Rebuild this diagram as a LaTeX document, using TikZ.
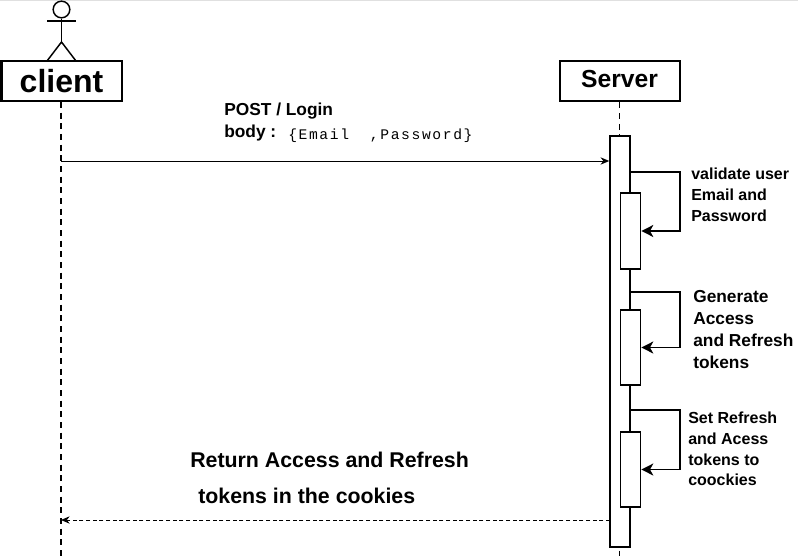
\documentclass[tikz,border=0pt]{standalone}
\usepackage{fontspec}
\setmainfont{Liberation Sans}
\newfontfamily\bodyfont[LetterSpace=11]{Liberation Mono}
\usetikzlibrary{arrows.meta}
\tikzset{
  party/.style={draw,line width=1.5pt,minimum width=90pt,minimum height=30pt,inner sep=0pt,font=\bfseries},
  lifeline/.style={line width=0.9pt,dash pattern=on 4.5pt off 3.5pt},
  active/.style={draw,fill=white,line width=1.2pt,minimum width=15pt,inner sep=0pt},
  selfmsg/.style={line width=1.1pt,-{Stealth[length=9pt,width=9pt,inset=2.5pt]}},
  note/.style={anchor=west,align=left,inner sep=0pt,font=\bfseries\fontsize{12}{15.6}\selectfont}
}
\begin{document}
\begin{tikzpicture}[x=0.75pt,y=-0.75pt]
  \useasboundingbox (0,0) rectangle (798,556);
  \draw[black!12,line width=1.5pt] (0,0.5)--(798,0.5);
  \node[party,font=\bfseries\fontsize{24}{24}\selectfont] (client) at (61.5,81) {client};
  \node[party,font=\bfseries\fontsize{18.5}{19}\selectfont] (server) at (619.5,81.5) {\raisebox{4pt}{Server}};
  \node[draw,circle,line width=1.1pt,minimum size=12.5pt,inner sep=0pt] (head) at (61.5,9.5) {};
  \coordinate (hip) at (61.5,42);
  \coordinate (armL) at (47,21);
  \coordinate (armR) at (76,21);
  \coordinate (footL) at (47,61);
  \coordinate (footR) at (76,61);
  \draw[line width=1.1pt] (head.south)--(hip);
  \draw[line width=1.1pt] (armL)--(armR);
  \draw[line width=1.1pt] (footL)--(hip)--(footR);
  \coordinate (clientend) at (61,556);
  \coordinate (serverend) at (619.5,556);
  \draw[lifeline] (client.south -| clientend)--(clientend);
  \draw[lifeline] (server.south)--(serverend);
  \node[active,minimum height=308.25pt] (main) at (620,341.5) {};
  \node[active,minimum height=57pt] (check) at (630.5,231) {};
  \node[active,minimum height=56.25pt] (make) at (630.5,347.5) {};
  \node[active,minimum height=56.25pt] (store) at (630.5,469.5) {};
  \coordinate (loginfrom) at (61,161);
  \draw[line width=0.7pt,-{Stealth[length=6.5pt,width=5.5pt]}] (loginfrom)--(loginfrom -| main.west);
  \coordinate (returnfrom) at (610,520);
  \draw[line width=0.6pt,densely dashed,-{Stealth[length=6.5pt,width=5.5pt]}] (returnfrom)--(returnfrom -| clientend);
  \coordinate (checkout) at (630,172);
  \coordinate (checkturn) at (680,172);
  \draw[selfmsg] (checkout)--(checkturn)--(checkturn |- check.east)--(check.east);
  \coordinate (makeout) at (630,292);
  \coordinate (maketurn) at (680,292);
  \draw[selfmsg] (makeout)--(maketurn)--(maketurn |- make.east)--(make.east);
  \coordinate (storeout) at (630,410);
  \coordinate (storeturn) at (680,410);
  \draw[selfmsg] (storeout)--(storeturn)--(storeturn |- store.east)--(store.east);
  \node[note,font=\bfseries\fontsize{13}{15.6}\selectfont] (post) at (224,111.5) {POST / Login};
  \node[note,font=\bfseries\fontsize{13}{15.6}\selectfont] (body) at (224,133.5) {body :};
  \node[anchor=west,inner sep=0pt,font=\bodyfont\fontsize{11}{12}\selectfont] (fields) at (288,135.5) {\{Email\ \ ,Password\}};
  \node[note] (checktext) at (691,195) {validate user\\Email and\\Password};
  \node[note,font=\bfseries\fontsize{13}{16.5}\selectfont] (maketext) at (693,330) {Generate\\Access\\and Refresh\\tokens};
  \node[note] (storetext) at (688,449) {Set Refresh\\and Acess\\tokens to\\coockies};
  \node[note,font=\bfseries\fontsize{16}{16}\selectfont] (returntext) at (190,459.5) {Return Access and Refresh};
  \node[note,font=\bfseries\fontsize{16}{16}\selectfont] (tokentext) at (198,496) {tokens in the cookies};
\end{tikzpicture}
\end{document}
